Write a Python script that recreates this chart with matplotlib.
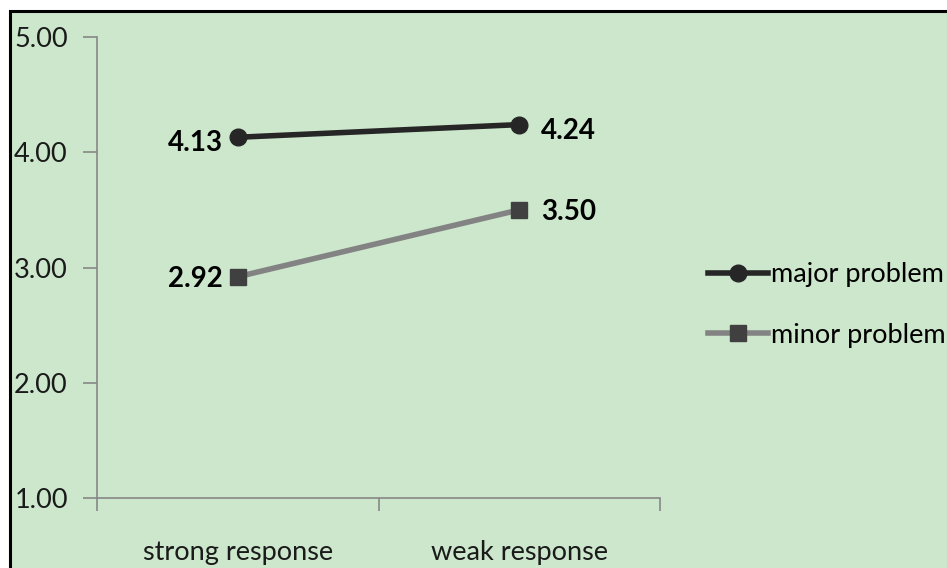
import matplotlib.pyplot as plt
from matplotlib.patches import Rectangle

plt.rcParams['font.family'] = ['Lato', 'DejaVu Sans']

categories = ['strong response', 'weak response']
major = [4.13, 4.24]
minor = [2.92, 3.50]
yticks = [1.00, 2.00, 3.00, 4.00, 5.00]

bg = '#cce7cc'
axis_grey = '#878787'

fig = plt.figure(figsize=(9.47, 5.68), dpi=100)
fig.patch.set_facecolor('white')

# green panel with black frame (runs off the right/bottom edge)
frame = Rectangle((9.5 / 947, -0.05), 1.1, 1 - 10.5 / 568 + 0.05,
                  transform=fig.transFigure, facecolor=bg,
                  edgecolor='black', linewidth=2.2, zorder=-1)
fig.patches.append(frame)

ax = fig.add_axes([97 / 947, 1 - 498 / 568, 563 / 947, 461 / 568])
ax.set_facecolor('none')

x = [0.5, 1.5]
ax.plot(x, major, color='#262626', lw=4, marker='o', ms=12,
        mfc='#262626', mec='#262626', label='major problem', zorder=3)
ax.plot(x, minor, color='#838383', lw=4, marker='s', ms=11,
        mfc='#404040', mec='#404040', label='minor problem', zorder=3)

ax.set_xlim(0, 2)
ax.set_ylim(1, 5)
ax.set_yticks(yticks)
ax.set_yticklabels([f'{v:.2f}' for v in yticks])
ax.set_xticks([0, 1, 2])
ax.set_xticklabels([])
ax.set_xticks(x, minor=True)
ax.set_xticklabels(categories, minor=True)

for s in ['top', 'right']:
    ax.spines[s].set_visible(False)
for s in ['left', 'bottom']:
    ax.spines[s].set_color(axis_grey)
    ax.spines[s].set_linewidth(1.2)

ax.tick_params(axis='y', which='major', length=10, width=1.2, color=axis_grey,
               labelsize=19.5, pad=11, labelcolor='#1a1a1a')
ax.tick_params(axis='x', which='major', direction='out', length=9, width=1.2,
               color=axis_grey)
ax.tick_params(axis='x', which='minor', length=0, labelsize=19.5, pad=30,
               labelcolor='#1a1a1a')

# value labels
for vals, dy in [(major, -6), (minor, -2)]:
    ax.annotate(f'{vals[0]:.2f}', (x[0], vals[0]), xytext=(-15, dy),
                textcoords='offset pixels', ha='right', va='center',
                fontsize=20, fontweight='bold', color='black')
    ax.annotate(f'{vals[1]:.2f}', (x[1], vals[1]), xytext=(22, dy),
                textcoords='offset pixels', ha='left', va='center',
                fontsize=20, fontweight='bold', color='black')

fig.legend(loc='center left', bbox_to_anchor=(684 / 947, 1 - 305 / 568),
           frameon=False, fontsize=19.5, handlelength=2.2, handletextpad=0.1,
           labelspacing=1.3)

fig.savefig('out.png', dpi=100, facecolor=fig.get_facecolor())
